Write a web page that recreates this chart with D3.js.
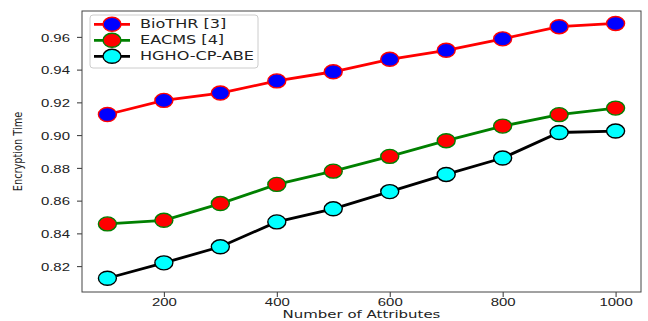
<!DOCTYPE html>
<html>
<head>
<meta charset="utf-8">
<script src="https://cdn.jsdelivr.net/npm/d3@7"></script>
<style>
  body { margin: 0; background: #fff; }
  svg { display: block; font-family: "DejaVu Sans", sans-serif; }
</style>
</head>
<body>
<svg id="chart"></svg>
<script>
// data
const attributes = [100, 200, 300, 400, 500, 600, 700, 800, 900, 1000];
const bioThr = [0.9126, 0.9212, 0.9257, 0.9331, 0.9387, 0.9463, 0.9518, 0.9588, 0.9662, 0.9682];
const eacms = [0.8458, 0.848, 0.8582, 0.8699, 0.878, 0.887, 0.8966, 0.9055, 0.9125, 0.9165];
const hgho = [0.8126, 0.822, 0.8318, 0.847, 0.855, 0.8655, 0.876, 0.886, 0.9016, 0.9025];
const xTicks = [200, 400, 600, 800, 1000];
const yTicks = [0.82, 0.84, 0.86, 0.88, 0.90, 0.92, 0.94, 0.96];

const seriesList = [
  { name: "BioTHR [3]", values: bioThr, line: "#ff0000", fill: "#0000ff" },
  { name: "EACMS [4]", values: eacms, line: "#008000", fill: "#ff0000" },
  { name: "HGHO-CP-ABE", values: hgho, line: "#000000", fill: "#00ffff" },
];

// layout
const width = 648;
const height = 321;
const plotLeft = 82, plotRight = 641, plotTop = 11, plotBottom = 292;
const stretch = 1.3; // the picture is stretched sideways
const fontSize = 11.5;

const svg = d3.select("#chart").attr("width", width).attr("height", height);

const xScale = d3.scaleLinear().domain([55, 1045]).range([plotLeft, plotRight]);
const yScale = d3.scaleLinear().domain([0.8042, 0.9758]).range([plotBottom, plotTop]);

// axes
const xAxis = svg.append("g")
  .attr("transform", "translate(0," + plotBottom + ")")
  .call(d3.axisBottom(xScale).tickValues(xTicks).tickSize(5).tickFormat(d3.format("d")));
xAxis.selectAll("text")
  .attr("y", 13.8).attr("dy", 0)
  .attr("transform", "scale(" + stretch + ",1)")
  .style("font-size", fontSize + "px").attr("fill", "#222");

const yAxis = svg.append("g")
  .attr("transform", "translate(" + plotLeft + ",0)")
  .call(d3.axisLeft(yScale).tickValues(yTicks).tickSize(5).tickFormat(d3.format(".2f")));
yAxis.selectAll("text")
  .attr("x", -12 / stretch).attr("dy", "0.36em")
  .attr("transform", "scale(" + stretch + ",1)")
  .style("font-size", fontSize + "px").attr("fill", "#222");

svg.selectAll(".domain").remove();
svg.selectAll(".tick line").attr("stroke", "#333");

// frame
svg.append("rect")
  .attr("x", plotLeft).attr("y", plotTop)
  .attr("width", plotRight - plotLeft).attr("height", plotBottom - plotTop)
  .attr("fill", "none").attr("stroke", "#444").attr("stroke-width", 1);

// axis labels
svg.append("text")
  .attr("transform", "translate(" + ((plotLeft + plotRight) / 2) + ",318.3) scale(1.36,1)")
  .attr("text-anchor", "middle")
  .style("font-size", "11px").attr("fill", "#222")
  .text("Number of Attributes");

svg.append("text")
  .attr("transform", "translate(22," + ((plotTop + plotBottom) / 2) + ") rotate(-90) scale(0.85,1)")
  .attr("text-anchor", "middle")
  .style("font-size", "11.5px").attr("fill", "#222")
  .text("Encryption Time");

// lines and markers
const line = d3.line()
  .x((d, i) => xScale(attributes[i]))
  .y((d) => yScale(d));

seriesList.forEach((s) => {
  svg.append("path")
    .datum(s.values)
    .attr("d", line)
    .attr("fill", "none")
    .attr("stroke", s.line)
    .attr("stroke-width", 2.8);

  svg.append("g")
    .selectAll("ellipse")
    .data(s.values)
    .enter()
    .append("ellipse")
    .attr("cx", (d, i) => xScale(attributes[i]))
    .attr("cy", (d) => yScale(d))
    .attr("rx", 9)
    .attr("ry", 7)
    .attr("fill", s.fill)
    .attr("stroke", s.line)
    .attr("stroke-width", 1.4);
});

// legend
const legend = svg.append("g");
legend.append("rect")
  .attr("x", 90).attr("y", 15)
  .attr("width", 168).attr("height", 53)
  .attr("rx", 3)
  .attr("fill", "#fff").attr("fill-opacity", 0.8)
  .attr("stroke", "#ccc");

seriesList.forEach((s, i) => {
  const y = 24.3 + i * 16;
  legend.append("line")
    .attr("x1", 94).attr("x2", 130)
    .attr("y1", y).attr("y2", y)
    .attr("stroke", s.line).attr("stroke-width", 2.8);
  legend.append("ellipse")
    .attr("cx", 112).attr("cy", y)
    .attr("rx", 9).attr("ry", 7)
    .attr("fill", s.fill).attr("stroke", s.line).attr("stroke-width", 1.4);
  legend.append("text")
    .attr("transform", "translate(140," + (y + 4) + ") scale(1.4,1)")
    .style("font-size", fontSize + "px").attr("fill", "#222")
    .text(s.name);
});
</script>
</body>
</html>
